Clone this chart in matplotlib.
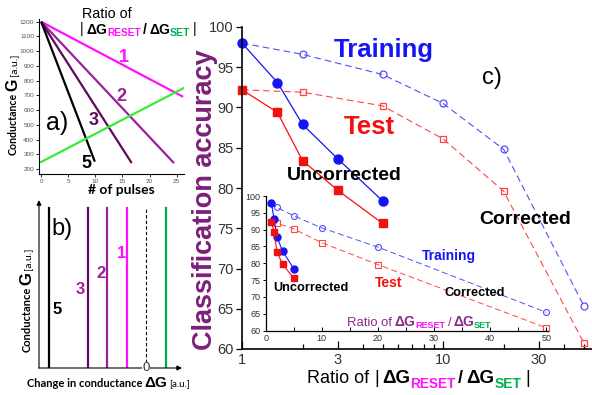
import numpy as np
import matplotlib
matplotlib.use("Agg")
import matplotlib.pyplot as plt

plt.rcParams['font.family'] = ['Liberation Sans', 'DejaVu Sans']

W, H = 592, 395

# panel a: conductance vs pulses
pulse_labels = ['1', '2', '3', '5']
reset_x_end = [26.2, 24.5, 16.7, 9.9]
reset_g_end = [690, 240, 240, 250]
reset_g_start = 1200
set_x = [0, 26.4]
set_g = [248, 752]

# panel b: step sizes
step_labels = ['5', '3', '2', '1']
step_dg = [-97, -58, -39, -19]
set_dg = 20

# panel c: accuracy vs ratio
ratio_unc = [1, 1.5, 2, 3, 5]
train_unc = [98.0, 93.1, 87.9, 83.6, 78.4]
test_unc = [92.2, 89.4, 83.4, 79.7, 75.6]
ratio_cor = [1, 2, 5, 10, 20, 50]
train_cor = [98.0, 96.6, 94.1, 90.5, 84.8, 65.4]
test_cor = [92.2, 91.9, 90.2, 86.1, 79.6, 60.8]

MAG = '#ff10ff'
PUR = '#9c1f9c'
DPUR = '#5e0a5e'
LIME = '#33ee33'
GRN = '#00b050'
BLUE = '#1414f5'
RED = '#f51010'
LBLUE = '#5050f8'
LRED = '#ff4545'
PLAB = '#7b1f7b'
GRAY = '#333333'

fig = plt.figure(figsize=(W / 100, H / 100), dpi=100)
renderer = fig.canvas.get_renderer()


def rect(x0, y0, x1, y1):
    return [x0 / W, 1 - y1 / H, (x1 - x0) / W, (y1 - y0) / H]


def ftxt(x, y, s, **kw):
    return fig.text(x / W, 1 - y / H, s, **kw)


def rich(parts, x, y, rot=0):
    # parts: text, size, weight, color, shift (px, down), gap before (px), family
    for s, size, weight, color, dy, gap, fam in parts:
        if rot:
            y -= gap
            t = fig.text((x + dy) / W, 1 - y / H, s, fontsize=size, fontweight=weight,
                         color=color, ha='left', va='baseline', rotation=90,
                         rotation_mode='anchor', family=fam)
            y -= t.get_window_extent(renderer).height
        else:
            x += gap
            t = fig.text(x / W, 1 - (y + dy) / H, s, fontsize=size, fontweight=weight,
                         color=color, ha='left', va='baseline', family=fam)
            x += t.get_window_extent(renderer).width


LS = ['Liberation Sans', 'DejaVu Sans']
LA = ['Lato', 'Liberation Sans', 'DejaVu Sans']

# ---------------- panel a ----------------
ax_a = fig.add_axes(rect(39, 18.8, 184.3, 174))
line_cols = [MAG, PUR, DPUR, 'black']
for xe, ge, c in zip(reset_x_end, reset_g_end, line_cols):
    ax_a.plot([0, xe], [reset_g_start, ge], color=c, lw=1.6, solid_capstyle='butt')
ax_a.plot(set_x, set_g, color=LIME, lw=1.6)
ax_a.set_xlim(-0.4, 26.4)
ax_a.set_ylim(166, 1220)
ax_a.set_xticks([0, 5, 10, 15, 20, 25])
ax_a.set_yticks(np.arange(200, 1201, 100))
ax_a.tick_params(labelsize=4.6, labelcolor='#555555', length=2, width=0.6, pad=1.5)
for sp in ['top', 'right']:
    ax_a.spines[sp].set_visible(False)
for sp in ['left', 'bottom']:
    ax_a.spines[sp].set_linewidth(0.8)
lab_pos_a = [(15.3, 955), (14.8, 690), (9.7, 528), (8.3, 240)]
lab_col_a = [MAG, PUR, DPUR, 'black']
for s, (lx, ly), c in zip(pulse_labels, lab_pos_a, lab_col_a):
    ax_a.text(lx, ly, s, color=c, fontsize=13, fontweight='bold', ha='center', va='center')
ax_a.text(3.0, 510, 'a)', fontsize=18, ha='center', va='center')

ftxt(121, 194, '# of pulses', fontsize=10, fontweight='bold', ha='center', va='baseline', family=LA)
rich([('Conductance', 7.6, 'bold', 'black', 0, 0, LA),
      ('G', 11.5, 'bold', 'black', 0, 2, LS),
      ('[a.u.]', 7.5, 'normal', 'black', 0, 2, LA)], 17, 155, rot=90)

ftxt(82, 18, 'Ratio of', fontsize=10.4, ha='left', va='baseline')
rich([('|', 10, 'normal', 'black', 0, 0, LS),
      ('\u0394G', 10, 'bold', 'black', 0, 3, LS),
      ('RESET', 7.3, 'bold', MAG, 3, 0, LS),
      ('/', 10, 'bold', 'black', 0, 2, LS),
      ('\u0394G', 10, 'bold', 'black', 0, 2, LS),
      ('SET', 7.6, 'bold', GRN, 3, 0, LS),
      ('|', 10, 'normal', 'black', 0, 2, LS)], 80, 33.5)

# ---------------- panel b ----------------
ax_b = fig.add_axes(rect(39, 205, 182, 368))
ax_b.set_xlim(-106.7, 36.3)
ax_b.set_ylim(0, 1)
ax_b.axis('off')
b_cols = ['black', DPUR, PUR, MAG]
for dg, c in zip(step_dg, b_cols):
    ax_b.plot([dg, dg], [0, 0.98], color=c, lw=1.6)
ax_b.plot([0, 0], [0, 0.98], color='black', lw=0.8, ls=(0, (3, 2)))
ax_b.plot([set_dg, set_dg], [0, 0.98], color=GRN, lw=1.6)
ax_b.annotate('', xy=(0, 1.03), xytext=(0, 0), xycoords='axes fraction',
              arrowprops=dict(arrowstyle='-|>', lw=0.8, color='black', mutation_scale=7,
                              shrinkA=0, shrinkB=0))
ax_b.annotate('', xy=(1.0, 0), xytext=(0, 0), xycoords='axes fraction',
              arrowprops=dict(arrowstyle='-|>', lw=0.8, color='black', mutation_scale=7,
                              shrinkA=0, shrinkB=0))
ax_b.text(0, 0, '0', fontsize=9.5, color=GRAY, ha='center', va='center',
          bbox=dict(facecolor='white', edgecolor='none', pad=0.3), zorder=5)
lab_pos_b = [(-88.7, 0.356), (-65.7, 0.48), (-45, 0.58), (-23.7, 0.705)]
lab_col_b = ['black', PUR, PUR, MAG]
for s, (lx, ly), c in zip(step_labels, lab_pos_b, lab_col_b):
    ax_b.text(lx, ly, s, color=c, fontsize=12, fontweight='bold', ha='center', va='center')
ax_b.text(-84, 0.85, 'b)', fontsize=17, ha='center', va='center')

rich([('Conductance', 8, 'bold', 'black', 0, 0, LA),
      ('G', 12, 'bold', 'black', 0, 2, LS),
      ('[a.u.]', 7.5, 'normal', 'black', 0, 2, LA)], 31, 352, rot=90)
rich([('Change in conductance', 8, 'bold', 'black', 0, 0, LA),
      ('\u0394G', 11, 'bold', 'black', 0, 2, LS),
      ('[a.u.]', 7, 'normal', 'black', 0, 2, LA)], 27, 387)

# ---------------- panel c ----------------
ax = fig.add_axes(rect(242, 27, 592, 349))
ax.set_xscale('log')
ax.plot(ratio_cor, train_cor, color=LBLUE, lw=0.8, ls=(0, (6, 3.5)), marker='o',
        ms=5, mfc='none', mec=LBLUE, mew=0.9, clip_on=False)
ax.plot(ratio_cor, test_cor, color=LRED, lw=0.8, ls=(0, (6, 3.5)), marker='s',
        ms=4.6, mfc='none', mec=LRED, mew=0.9, clip_on=False)
ax.plot(ratio_unc, train_unc, color=BLUE, lw=0.9, marker='o', ms=6.5, clip_on=False)
ax.plot(ratio_unc, test_unc, color=RED, lw=0.9, marker='s', ms=5.5, clip_on=False)
ax.set_xlim(1, 55)
ax.set_ylim(60, 100)
ax.set_yticks(np.arange(60, 101, 5))
ax.set_xticks([1, 3, 10, 30])
ax.set_xticklabels(['1', '3', '10', '30'])
ax.set_xticks([2, 4, 5, 6, 7, 8, 9, 20, 40, 50], minor=True)
ax.xaxis.set_minor_formatter(matplotlib.ticker.NullFormatter())
ax.tick_params(axis='y', labelsize=10.5, labelcolor=GRAY, length=4, width=0.9, direction='out', pad=2)
ax.tick_params(axis='x', which='major', labelsize=10.5, labelcolor=GRAY, length=6, width=0.9,
               direction='in', pad=3)
ax.tick_params(axis='x', which='minor', length=3.5, width=0.9, direction='in')
for sp in ['top', 'right']:
    ax.spines[sp].set_visible(False)
for sp in ['left', 'bottom']:
    ax.spines[sp].set_linewidth(1.2)

ftxt(384, 50, 'Training', color=BLUE, fontsize=18.5, fontweight='bold', ha='center', va='center')
ftxt(369, 127, 'Test', color=RED, fontsize=18.5, fontweight='bold', ha='center', va='center')
ftxt(344, 176, 'Uncorrected', fontsize=14, fontweight='bold', ha='center', va='center')
ftxt(525, 220, 'Corrected', fontsize=14, fontweight='bold', ha='center', va='center')
ftxt(492, 78, 'c)', fontsize=17, ha='center', va='center')

ftxt(205, 200, 'Classification accuracy', color=PLAB, fontsize=19.5, fontweight='bold',
     rotation=90, ha='center', va='center')
rich([('Ratio of', 13, 'normal', 'black', 0, 0, LS),
      ('|', 13, 'normal', 'black', 0, 5, LS),
      ('\u0394G', 13.5, 'bold', 'black', 0, 3, LS),
      ('RESET', 9.8, 'bold', MAG, 5, 0, LS),
      ('/', 13, 'bold', 'black', 0, 3, LS),
      ('\u0394G', 13.5, 'bold', 'black', 0, 3, LS),
      ('SET', 10, 'bold', GRN, 5, 0, LS),
      ('|', 13, 'normal', 'black', 0, 4, LS)], 307, 383)

# ---------------- inset ----------------
axi = fig.add_axes(rect(265.7, 196, 548, 330.5))
axi.patch.set_alpha(0)
axi.plot(ratio_cor, train_cor, color=LBLUE, lw=0.7, ls=(0, (6, 3.5)), marker='o',
         ms=4.3, mfc='none', mec=LBLUE, mew=0.8, clip_on=False)
axi.plot(ratio_cor, test_cor, color=LRED, lw=0.7, ls=(0, (6, 3.5)), marker='s',
         ms=3.8, mfc='none', mec=LRED, mew=0.8, clip_on=False)
axi.plot(ratio_unc, train_unc, color=BLUE, lw=0.8, marker='o', ms=5, clip_on=False)
axi.plot(ratio_unc, test_unc, color=RED, lw=0.8, marker='s', ms=4.3, clip_on=False)
axi.set_xlim(0, 50.3)
axi.set_ylim(60, 100)
axi.set_yticks(np.arange(60, 101, 5))
axi.set_xticks(np.arange(0, 51, 10))
axi.set_xticks(np.arange(5, 50, 10), minor=True)
axi.tick_params(axis='y', labelsize=6.5, labelcolor=GRAY, length=2.5, width=0.7, direction='out', pad=1.5)
axi.tick_params(axis='x', which='both', labelsize=6.5, labelcolor=GRAY, length=3, width=0.7,
                direction='in', pad=2.5)
for sp in ['top', 'right']:
    axi.spines[sp].set_visible(False)
for sp in ['left', 'bottom']:
    axi.spines[sp].set_linewidth(0.9)

ftxt(449, 256, 'Training', color=BLUE, fontsize=10, fontweight='bold', ha='center', va='center')
ftxt(389, 283, 'Test', color=RED, fontsize=10, fontweight='bold', ha='center', va='center')
ftxt(311, 288, 'Uncorrected', fontsize=9.2, fontweight='bold', ha='center', va='center')
ftxt(475, 293, 'Corrected', fontsize=9.2, fontweight='bold', ha='center', va='center')
IP = '#8a2a8a'
rich([('Ratio of', 9.4, 'normal', IP, 0, 0, LS),
      ('\u0394G', 10, 'bold', IP, 0, 3, LS),
      ('RESET', 6.5, 'bold', MAG, 2.5, 0, LS),
      ('/', 9.4, 'normal', IP, 0, 2, LS),
      ('\u0394G', 10, 'bold', IP, 0, 2, LS),
      ('SET', 6.5, 'bold', GRN, 2.5, 0, LS)], 347, 326)

fig.savefig('out.png', dpi=100)
